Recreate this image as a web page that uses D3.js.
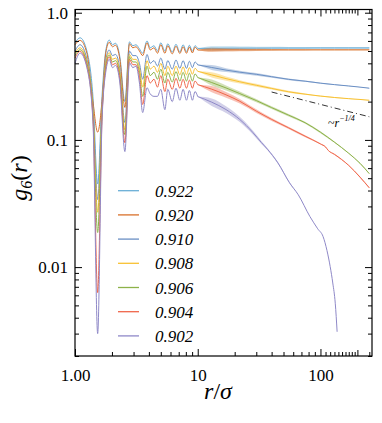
<!DOCTYPE html>
<html>
<meta charset="utf-8">
<style>
  body { margin: 0; background: #fff; }
  svg { width: 382px; height: 423px; display: block; }
  text { font-family: "Liberation Serif", "Times New Roman", serif; }
</style>
<body>
  <svg></svg>
</body>
<script src="https://d3js.org/d3.v7.min.js"></script>
<script>

  // legend labels (packing fractions) and colours
  var phis = ["0.922", "0.920", "0.910", "0.908", "0.906", "0.904", "0.902"];
  var colors = ["#6aaed6", "#d9712b", "#6a8fc4", "#f8c132", "#8db249", "#f0664a", "#8f89c8"];

  // short range: r values and g6 (peaks and troughs)
  var nearR = [1.0, 1.1, 1.25, 1.4, 1.53, 1.66, 1.78, 1.9, 2.02, 2.14, 2.32, 2.55, 2.78, 2.96, 3.14, 3.35, 3.56, 3.86, 4.1, 4.4, 4.7, 5.0, 5.4,
               5.7, 6.2, 6.65, 7.15, 7.6, 8.1, 8.55, 9.05, 9.5, 10.0];
  var near922 = [0.58, 0.635, 0.5, 0.22, 0.045, 0.22, 0.5, 0.61, 0.56, 0.575, 0.45, 0.2, 0.59, 0.55, 0.56, 0.52, 0.48, 0.6, 0.53, 0.55, 0.5, 0.58, 0.5,
                 0.57, 0.49, 0.565, 0.49, 0.56, 0.495, 0.555, 0.498, 0.55, 0.524];
  var near920 = [0.56, 0.606, 0.48, 0.2, 0.115, 0.2, 0.48, 0.585, 0.54, 0.555, 0.43, 0.18, 0.57, 0.53, 0.54, 0.5, 0.46, 0.58, 0.51, 0.53, 0.48, 0.56, 0.48,
                 0.55, 0.475, 0.545, 0.478, 0.54, 0.48, 0.537, 0.483, 0.535, 0.509];
  var near910 = [0.5, 0.56, 0.43, 0.18, 0.034, 0.18, 0.42, 0.51, 0.46, 0.47, 0.36, 0.137, 0.5, 0.46, 0.46, 0.4, 0.3, 0.47, 0.4, 0.42, 0.38, 0.44, 0.36,
                 0.42, 0.36, 0.425, 0.365, 0.42, 0.365, 0.415, 0.37, 0.41, 0.389];
  var near908 = [0.48, 0.53, 0.41, 0.17, 0.027, 0.17, 0.4, 0.485, 0.43, 0.44, 0.34, 0.12, 0.47, 0.43, 0.43, 0.37, 0.26, 0.42, 0.36, 0.38, 0.34, 0.4, 0.32,
                 0.38, 0.32, 0.38, 0.325, 0.375, 0.325, 0.37, 0.328, 0.365, 0.346];
  var near906 = [0.46, 0.512, 0.4, 0.16, 0.0187, 0.16, 0.38, 0.465, 0.41, 0.42, 0.32, 0.11, 0.45, 0.41, 0.41, 0.34, 0.22, 0.38, 0.32, 0.34, 0.3, 0.36, 0.28,
                 0.34, 0.285, 0.345, 0.29, 0.34, 0.29, 0.335, 0.29, 0.33, 0.309];
  var near904 = [0.44, 0.497, 0.38, 0.15, 0.0063, 0.15, 0.36, 0.45, 0.39, 0.4, 0.3, 0.095, 0.43, 0.39, 0.39, 0.31, 0.19, 0.32, 0.28, 0.3, 0.26, 0.32, 0.24,
                 0.3, 0.25, 0.305, 0.255, 0.3, 0.255, 0.295, 0.255, 0.29, 0.272];
  var near902 = [0.4, 0.482, 0.37, 0.14, 0.003, 0.14, 0.34, 0.43, 0.37, 0.385, 0.28, 0.081, 0.405, 0.37, 0.38, 0.28, 0.164, 0.257, 0.23, 0.22, 0.22, 0.25, 0.173,
                 0.25, 0.2, 0.255, 0.205, 0.25, 0.205, 0.245, 0.205, 0.24, 0.219];

  // long range: the fast oscillation is drawn as a band between low and high envelope
  var farR = [10, 13, 17, 22, 30, 40, 55, 75, 100, 130, 170, 210, 250];
  var lo922 = [0.524, 0.505, 0.508, 0.511, 0.514, 0.516, 0.518, 0.519, 0.52, 0.52, 0.52, 0.52, 0.52];
  var hi922 = [0.524, 0.546, 0.544, 0.542, 0.54, 0.539, 0.538, 0.537, 0.537, 0.537, 0.537, 0.537, 0.537];
  var lo920 = [0.509, 0.49, 0.495, 0.498, 0.501, 0.503, 0.504, 0.505, 0.506, 0.506, 0.506, 0.506, 0.506];
  var hi920 = [0.509, 0.53, 0.526, 0.523, 0.52, 0.518, 0.517, 0.516, 0.515, 0.515, 0.515, 0.515, 0.515];
  var lo910 = [0.389, 0.355, 0.342, 0.332, 0.32, 0.308, 0.295, 0.286, 0.277, 0.27, 0.264, 0.259, 0.254];
  var hi910 = [0.389, 0.388, 0.366, 0.35, 0.336, 0.32, 0.304, 0.293, 0.282, 0.274, 0.267, 0.261, 0.256];
  var lo908 = [0.346, 0.31, 0.292, 0.278, 0.262, 0.249, 0.235, 0.226, 0.219, 0.214, 0.21, 0.207, 0.204];
  var hi908 = [0.346, 0.34, 0.315, 0.295, 0.276, 0.259, 0.243, 0.232, 0.223, 0.217, 0.212, 0.209, 0.206];
  var lo906 = [0.309, 0.268, 0.245, 0.223, 0.198, 0.175, 0.153, 0.134, 0.113, 0.095, 0.078, 0.065, 0.054];
  var hi906 = [0.309, 0.298, 0.268, 0.24, 0.21, 0.184, 0.16, 0.139, 0.117, 0.097, 0.079, 0.066, 0.0545];

  var farR904 = [10, 13, 17, 22, 30, 40, 55, 75, 100, 110, 116, 130, 170, 210, 250];
  var lo904 = [0.272, 0.237, 0.215, 0.193, 0.163, 0.141, 0.122, 0.105, 0.092, 0.087, 0.082, 0.076, 0.0625, 0.0505, 0.0415];
  var hi904 = [0.272, 0.265, 0.238, 0.21, 0.174, 0.149, 0.127, 0.109, 0.094, 0.089, 0.083, 0.078, 0.0635, 0.0515, 0.0425];

  var farR902 = [10, 13, 17, 22, 28, 33, 37, 45, 56, 66, 82, 95, 105, 113, 120, 126, 132, 136.7];
  var lo902 = [0.219, 0.185, 0.163, 0.138, 0.111, 0.093, 0.083, 0.065, 0.0455, 0.037, 0.025, 0.02, 0.0174, 0.0135, 0.0101, 0.0075, 0.0052, 0.0031];
  var hi902 = [0.219, 0.212, 0.184, 0.152, 0.119, 0.098, 0.086, 0.067, 0.0465, 0.037, 0.025, 0.02, 0.0174, 0.0135, 0.0101, 0.0075, 0.0052, 0.0031];

  // r^-1/4 guide
  var guideR = [40, 250];
  var guideG = [0.238, 0.152];

  var xMajor = [1, 10, 100];
  var xMajorLabels = ["1.00", "10", "100"];
  var xMinor = [2, 3, 4, 5, 6, 7, 8, 9, 20, 30, 40, 50, 60, 70, 80, 90, 110, 120, 130, 140, 150, 160, 170, 180, 190, 250];
  var xMid = [200];
  var yMajor = [0.01, 0.1, 1];
  var yMajorLabels = ["0.01", "0.1", "1.0"];
  var yMinor = [0.002, 0.003, 0.004, 0.005, 0.006, 0.007, 0.008, 0.009, 0.02, 0.03, 0.04, 0.05, 0.06, 0.07, 0.08, 0.09, 0.2, 0.3, 0.4, 0.5, 0.6, 0.7, 0.8, 0.9];

  var series = [
    {near: near922, fr: farR, lo: lo922, hi: hi922},
    {near: near920, fr: farR, lo: lo920, hi: hi920},
    {near: near910, fr: farR, lo: lo910, hi: hi910},
    {near: near908, fr: farR, lo: lo908, hi: hi908},
    {near: near906, fr: farR, lo: lo906, hi: hi906},
    {near: near904, fr: farR904, lo: lo904, hi: hi904},
    {near: near902, fr: farR902, lo: lo902, hi: hi902}
  ];

  var pL = 75, pR = 372, pT = 9.5, pB = 356;

  var svg = d3.select("svg");

  var x = d3.scaleLog().domain([1, 263]).range([pL, pR]);
  var y = d3.scaleLog().domain([0.002, 1.06]).range([pB, pT]);

  var plot = svg.append("g");

  var line = d3.line()
    .curve(d3.curveMonotoneX)
    .x(function(d) { return x(d[0]); })
    .y(function(d) { return y(d[1]); });

  var band = d3.area()
    .curve(d3.curveMonotoneX)
    .x(function(d) { return x(d[0]); })
    .y0(function(d) { return y(d[1]); })
    .y1(function(d) { return y(d[2]); });

  series.forEach(function(s, i) {
    var nearPts = nearR.map(function(r, j) { return [r, s.near[j]]; });
    var farPts = s.fr.map(function(r, j) { return [r, s.lo[j], s.hi[j]]; });
    plot.append("path")
      .attr("d", band(farPts))
      .attr("fill", colors[i])
      .attr("fill-opacity", 0.4);
    // centre of the band
    plot.append("path")
      .attr("d", line(farPts.map(function(d) { return [d[0], Math.sqrt(d[1] * d[2])]; })))
      .attr("fill", "none").attr("stroke", colors[i]).attr("stroke-width", 1);
    plot.append("path")
      .attr("d", line(nearPts))
      .attr("fill", "none").attr("stroke", colors[i]).attr("stroke-width", 1);
  });

  // guide line
  plot.append("path")
    .attr("d", d3.line()
      .x(function(d) { return x(d[0]); })
      .y(function(d) { return y(d[1]); })(guideR.map(function(r, j) { return [r, guideG[j]]; })))
    .attr("fill", "none")
    .attr("stroke", "#000")
    .attr("stroke-width", 0.8)
    .attr("stroke-dasharray", "6,3,1,3");

  var ann = svg.append("text")
    .attr("x", 328).attr("y", 127)
    .attr("font-size", 12);
  ann.append("tspan").text("~");
  ann.append("tspan").attr("font-style", "italic").text("r");
  ann.append("tspan").attr("dy", -6).attr("font-size", 8).attr("font-style", "italic").text("\u22121/4");

  // legend
  var leg = svg.append("g");
  phis.forEach(function(p, i) {
    var yy = 190.7 + i * 24.2;
    leg.append("line")
      .attr("x1", 118).attr("x2", 139)
      .attr("y1", yy).attr("y2", yy)
      .attr("stroke", colors[i]).attr("stroke-width", 1.3);
    leg.append("text")
      .attr("x", 155).attr("y", yy + 6)
      .attr("font-size", 17).attr("font-style", "italic")
      .text(p);
  });

  // axes, ticks pointing inward on all four sides
  function ticks(axisFn, scale, vals, size, labels, tx, ty) {
    var a = axisFn(scale).tickValues(vals).tickSizeInner(-size).tickSizeOuter(0);
    if (labels) {
      a.tickFormat(function(d, i) { return labels[i]; }).tickPadding(7);
    } else {
      a.tickFormat("");
    }
    var g = svg.append("g").attr("transform", "translate(" + tx + "," + ty + ")").call(a);
    g.select(".domain").remove();
    g.selectAll("line").attr("stroke", "#000").attr("stroke-width", 1);
    g.selectAll("text").attr("font-size", 17).attr("fill", "#000")
      .attr("font-family", "Liberation Serif, Times New Roman, serif");
    return g;
  }

  var xb = ticks(d3.axisBottom, x, xMajor, 7, xMajorLabels, 0, pB);
  xb.selectAll("text").attr("dy", "1.05em");
  ticks(d3.axisBottom, x, xMinor, 4, null, 0, pB);
  ticks(d3.axisBottom, x, xMid, 6, null, 0, pB);
  ticks(d3.axisTop, x, xMajor, 7, null, 0, pT);
  ticks(d3.axisTop, x, xMinor, 4, null, 0, pT);
  ticks(d3.axisTop, x, xMid, 6, null, 0, pT);
  ticks(d3.axisLeft, y, yMajor, 7, yMajorLabels, pL, 0);
  ticks(d3.axisLeft, y, yMinor, 4, null, pL, 0);
  ticks(d3.axisRight, y, yMajor, 7, null, pR, 0);
  ticks(d3.axisRight, y, yMinor, 4, null, pR, 0);

  svg.append("rect")
    .attr("x", pL).attr("y", pT)
    .attr("width", pR - pL).attr("height", pB - pT)
    .attr("fill", "none").attr("stroke", "#000").attr("stroke-width", 1.2);

  // axis titles
  var xt = svg.append("text")
    .attr("x", 218).attr("y", 399)
    .attr("text-anchor", "middle")
    .attr("font-size", 24);
  xt.append("tspan").attr("font-style", "italic").text("r");
  xt.append("tspan").text("/");
  xt.append("tspan").attr("font-style", "italic").text("\u03c3");

  var yt = svg.append("text")
    .attr("transform", "translate(27,178) rotate(-90)")
    .attr("text-anchor", "middle")
    .attr("font-size", 24);
  yt.append("tspan").attr("font-style", "italic").text("g");
  yt.append("tspan").attr("font-size", 16).attr("dy", 5).attr("font-style", "italic").text("6");
  yt.append("tspan").attr("dy", -5).text("(");
  yt.append("tspan").attr("font-style", "italic").text("r");
  yt.append("tspan").text(")");

</script>
</html>
